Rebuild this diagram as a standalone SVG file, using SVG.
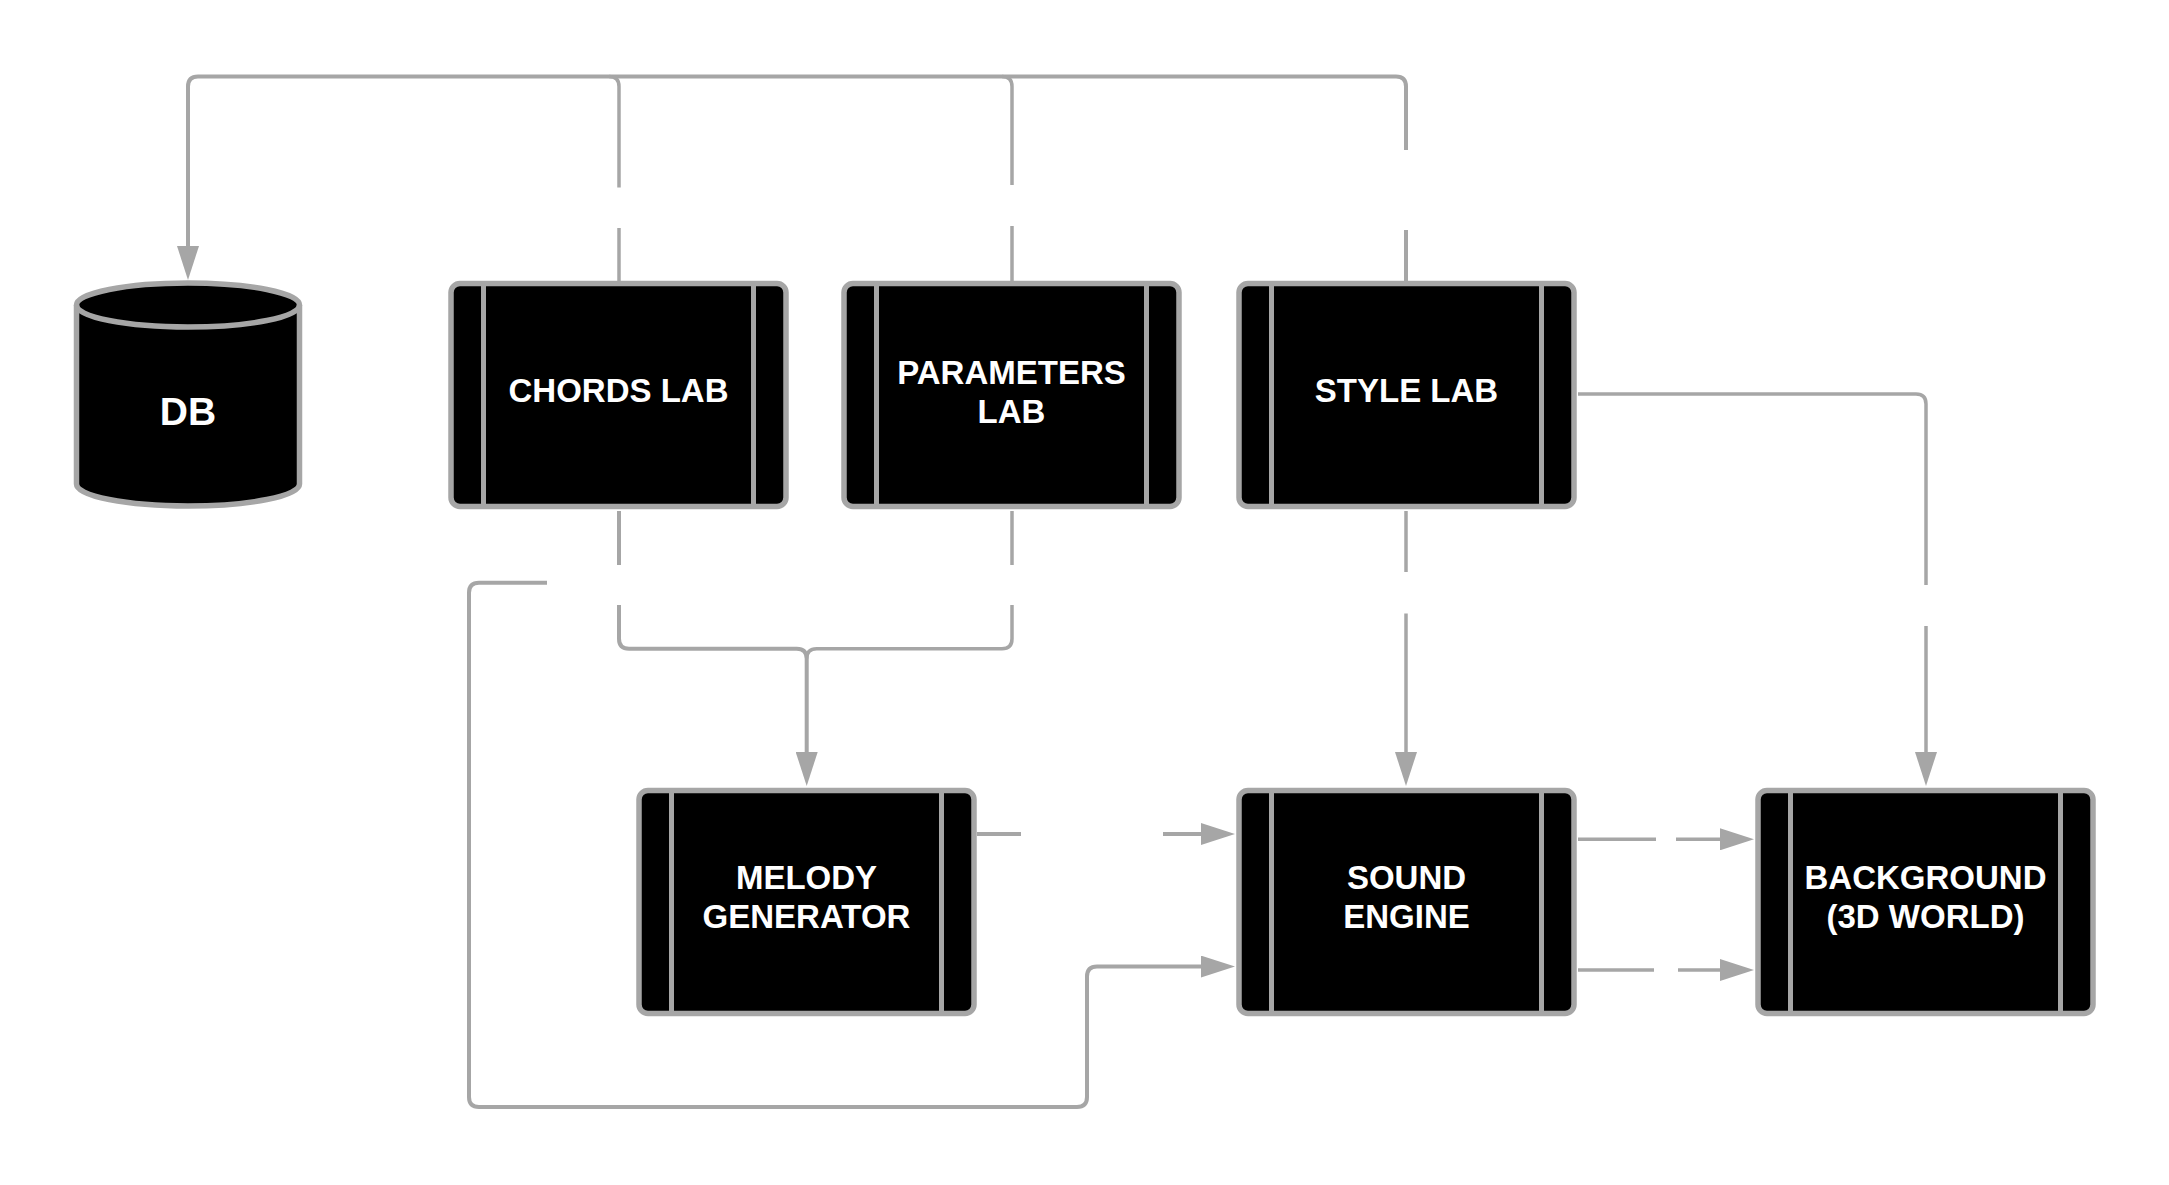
<svg xmlns="http://www.w3.org/2000/svg" width="2169" height="1185" viewBox="0 0 2169 1185">
<style>
.box{fill:#000;stroke:#a6a6a6;stroke-width:5.5}
.bar{stroke:#a6a6a6;stroke-width:5}
.lbl{fill:#fff;font-family:"Liberation Sans",Arial,sans-serif;font-weight:bold;font-size:33px;text-anchor:middle}
.c{fill:none;stroke:#a6a6a6;stroke-width:4}
.c3{fill:none;stroke:#a6a6a6;stroke-width:3.5}
</style>
<defs>
<marker id="ah" viewBox="0 0 34 22" refX="0" refY="11" markerWidth="34" markerHeight="22" markerUnits="userSpaceOnUse" orient="auto">
<path d="M0,0 L34,11 L0,22 Z" fill="#a6a6a6"/>
</marker>
</defs>
<rect width="2169" height="1185" fill="#fff"/>
<g id="connectors">
<path class="c" d="M1406,281 L1406,230 M1406,150 L1406,86.5 Q1406,76.5 1396,76.5 L198,76.5 Q188,76.5 188,86.5 L188,246" marker-end="url(#ah)"/>
<path class="c3" d="M619,281 L619,228 M619,187.5 L619,86.5 Q619,76.5 609,76.5"/>
<path class="c3" d="M1012,281 L1012,226 M1012,185 L1012,86.5 Q1012,76.5 1002,76.5"/>
<path class="c3" d="M1012,511 L1012,565 M1012,605 L1012,638.7 Q1012,648.7 1002,648.7 L816.7,648.7 Q806.7,648.7 806.7,658.7"/>
<path class="c" d="M619,511 L619,565 M619,605 L619,638.7 Q619,648.7 629,648.7 L796.7,648.7 Q806.7,648.7 806.7,658.7 L806.7,752" marker-end="url(#ah)"/>
<path class="c" d="M547,582.7 L479,582.7 Q469,582.7 469,592.7 L469,1097 Q469,1107 479,1107 L1077,1107 Q1087,1107 1087,1097 L1087,976.6 Q1087,966.6 1097,966.6 L1201,966.6" marker-end="url(#ah)"/>
<path class="c" d="M977,834 L1021,834 M1163,834 L1201,834" marker-end="url(#ah)"/>
<path class="c3" d="M1406,511 L1406,572 M1406,613.6 L1406,752" marker-end="url(#ah)"/>
<path class="c3" d="M1578,394 L1916,394 Q1926,394 1926,404 L1926,585 M1926,626 L1926,752" marker-end="url(#ah)"/>
<path class="c3" d="M1578,839.3 L1656,839.3 M1676,839.3 L1720,839.3" marker-end="url(#ah)"/>
<path class="c3" d="M1578,970 L1654,970 M1678,970 L1720,970" marker-end="url(#ah)"/>
</g>
<g id="db">
<path class="box" d="M76.5,305 A111.5,22 0 0 1 299.5,305 L299.5,484 A111.5,22 0 0 1 76.5,484 Z"/>
<path d="M76.5,305 A111.5,22 0 0 0 299.5,305" fill="none" stroke="#a6a6a6" stroke-width="5.5"/>
<text class="lbl" x="188" y="425" style="font-size:39px">DB</text>
</g>
<g id="chords-lab">
<rect class="box" x="451" y="283.5" width="335" height="223" rx="9"/>
<line class="bar" x1="483.5" y1="283.5" x2="483.5" y2="506.5"/>
<line class="bar" x1="753.5" y1="283.5" x2="753.5" y2="506.5"/>
<text class="lbl" x="618.5" y="402">CHORDS LAB</text>
</g>
<g id="parameters-lab">
<rect class="box" x="844" y="283.5" width="335" height="223" rx="9"/>
<line class="bar" x1="876.5" y1="283.5" x2="876.5" y2="506.5"/>
<line class="bar" x1="1146.5" y1="283.5" x2="1146.5" y2="506.5"/>
<text class="lbl" x="1011.5" y="384">PARAMETERS</text>
<text class="lbl" x="1011.5" y="423">LAB</text>
</g>
<g id="style-lab">
<rect class="box" x="1239" y="283.5" width="335" height="223" rx="9"/>
<line class="bar" x1="1271.5" y1="283.5" x2="1271.5" y2="506.5"/>
<line class="bar" x1="1541.5" y1="283.5" x2="1541.5" y2="506.5"/>
<text class="lbl" x="1406.5" y="402">STYLE LAB</text>
</g>
<g id="melody-generator">
<rect class="box" x="639" y="790.5" width="335" height="223" rx="9"/>
<line class="bar" x1="671.5" y1="790.5" x2="671.5" y2="1013.5"/>
<line class="bar" x1="941.5" y1="790.5" x2="941.5" y2="1013.5"/>
<text class="lbl" x="806.5" y="889">MELODY</text>
<text class="lbl" x="806.5" y="928">GENERATOR</text>
</g>
<g id="sound-engine">
<rect class="box" x="1239" y="790.5" width="335" height="223" rx="9"/>
<line class="bar" x1="1271.5" y1="790.5" x2="1271.5" y2="1013.5"/>
<line class="bar" x1="1541.5" y1="790.5" x2="1541.5" y2="1013.5"/>
<text class="lbl" x="1406.5" y="889">SOUND</text>
<text class="lbl" x="1406.5" y="928">ENGINE</text>
</g>
<g id="background">
<rect class="box" x="1758" y="790.5" width="335" height="223" rx="9"/>
<line class="bar" x1="1790.5" y1="790.5" x2="1790.5" y2="1013.5"/>
<line class="bar" x1="2060.5" y1="790.5" x2="2060.5" y2="1013.5"/>
<text class="lbl" x="1925.5" y="889">BACKGROUND</text>
<text class="lbl" x="1925.5" y="928">(3D WORLD)</text>
</g>
</svg>
